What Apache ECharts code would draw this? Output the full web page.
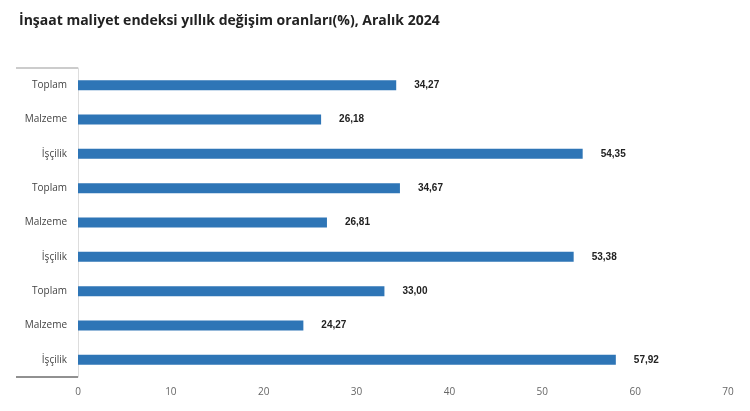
<!DOCTYPE html><html><head><meta charset="utf-8"><script src="https://cdn.jsdelivr.net/npm/echarts@6/dist/echarts.min.js"></script></head><body style="margin:0"><div id="c" style="width:750px;height:411px"></div><script>
const categories=["Toplam","Malzeme","İşçilik","Toplam","Malzeme","İşçilik","Toplam","Malzeme","İşçilik"];
const values=[34.27,26.18,54.35,34.67,26.81,53.38,33.00,24.27,57.92];
const ch=echarts.init(document.getElementById('c'));
ch.setOption({
title:{text:"İnşaat maliyet endeksi yıllık değişim oranları(%), Aralık 2024",left:14,top:9,textStyle:{fontFamily:"Open Sans",fontSize:14,fontWeight:"bold",color:"#222"}},
grid:{left:78,right:22,top:68,bottom:34},
xAxis:{type:"value",min:0,max:70,interval:10,splitLine:{show:false},axisLine:{show:false},axisTick:{show:false},axisLabel:{color:"#666",fontSize:10,margin:10,fontFamily:"Open Sans"}},
yAxis:{type:"category",inverse:true,data:categories.map((c,i)=>i),axisLabel:{formatter:v=>categories[v],color:"#444",fontSize:10,margin:11,fontFamily:"Open Sans"},axisTick:{show:false},axisLine:{lineStyle:{color:"#ddd"}}},
series:[{type:"bar",data:values,barWidth:10,itemStyle:{color:"#2e75b6"},label:{show:true,position:"right",distance:18,formatter:p=>p.value.toFixed(2).replace('.',','),fontSize:10,fontWeight:"bold",color:"#222"}}],
graphic:[{type:"line",shape:{x1:16,y1:68,x2:78,y2:68},style:{stroke:"#999",lineWidth:1}},{type:"line",shape:{x1:16,y1:377,x2:78,y2:377},style:{stroke:"#222",lineWidth:1}}]
});
</script></body></html>
